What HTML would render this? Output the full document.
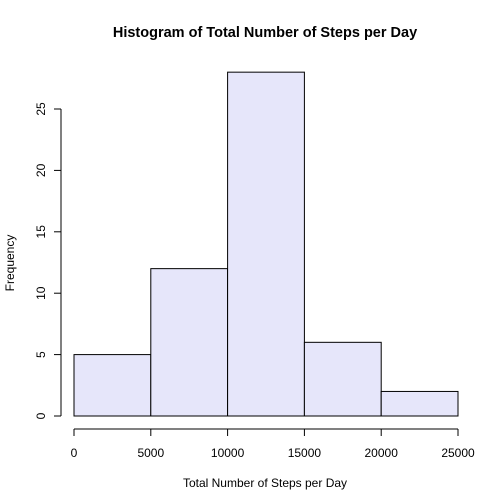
<!DOCTYPE html>
<html><head><meta charset="utf-8"><style>body{margin:0;background:#fff}svg{display:block}text{font-family:"Liberation Sans",Arial,sans-serif;fill:#000}</style></head>
<body>
<svg id="chart" width="504" height="504">
<text x="265" y="37" text-anchor="middle" font-size="14.5" font-weight="bold">Histogram of Total Number of Steps per Day</text>
<text x="265" y="487" text-anchor="middle" font-size="12">Total Number of Steps per Day</text>
<text transform="translate(14,263) rotate(-90)" text-anchor="middle" font-size="12">Frequency</text>
<g id="bars"></g><g id="xaxis"></g><g id="yaxis"></g>
</svg>
<script>
const binEdges=[0,5000,10000,15000,20000,25000];
const counts=[5,12,28,6,2];
const xTicks=[0,5000,10000,15000,20000,25000];
const yTicks=[0,5,10,15,20,25];
const NS="http://www.w3.org/2000/svg";
function X(v){return 74+(v-0)*(458-74)/25000;}
function Y(v){return 416-v*(416-109)/25;}
function mk(t,a,p){const e=document.createElementNS(NS,t);for(const k in a)e.setAttribute(k,a[k]);p.appendChild(e);return e;}
const bars=document.getElementById('bars');
counts.forEach((c,i)=>{
 const r=mk('rect',{x:X(binEdges[i]),y:Y(c),width:X(binEdges[i+1])-X(binEdges[i]),height:Y(0)-Y(c),fill:'#E6E6FA',stroke:'#000','stroke-width':1},bars);
 
 
});
const xa=document.getElementById('xaxis');
mk('line',{x1:X(xTicks[0]),x2:X(xTicks[xTicks.length-1]),y1:429,y2:429,stroke:'#000'},xa);
xTicks.forEach(t=>{
 mk('line',{x1:X(t),x2:X(t),y1:429,y2:436,stroke:'#000'},xa);
 const tx=mk('text',{x:X(t),y:457,'text-anchor':'middle','font-size':12},xa);tx.textContent=t;
 
 
});
const ya=document.getElementById('yaxis');
mk('line',{x1:61,x2:61,y1:Y(yTicks[0]),y2:Y(yTicks[yTicks.length-1]),stroke:'#000'},ya);
yTicks.forEach(t=>{
 mk('line',{x1:54,x2:61,y1:Y(t),y2:Y(t),stroke:'#000'},ya);
 const tx=mk('text',{transform:`translate(45,${Y(t)}) rotate(-90)`,'text-anchor':'middle','font-size':12},ya);tx.textContent=t;
 
 
});
</script>
</body></html>
